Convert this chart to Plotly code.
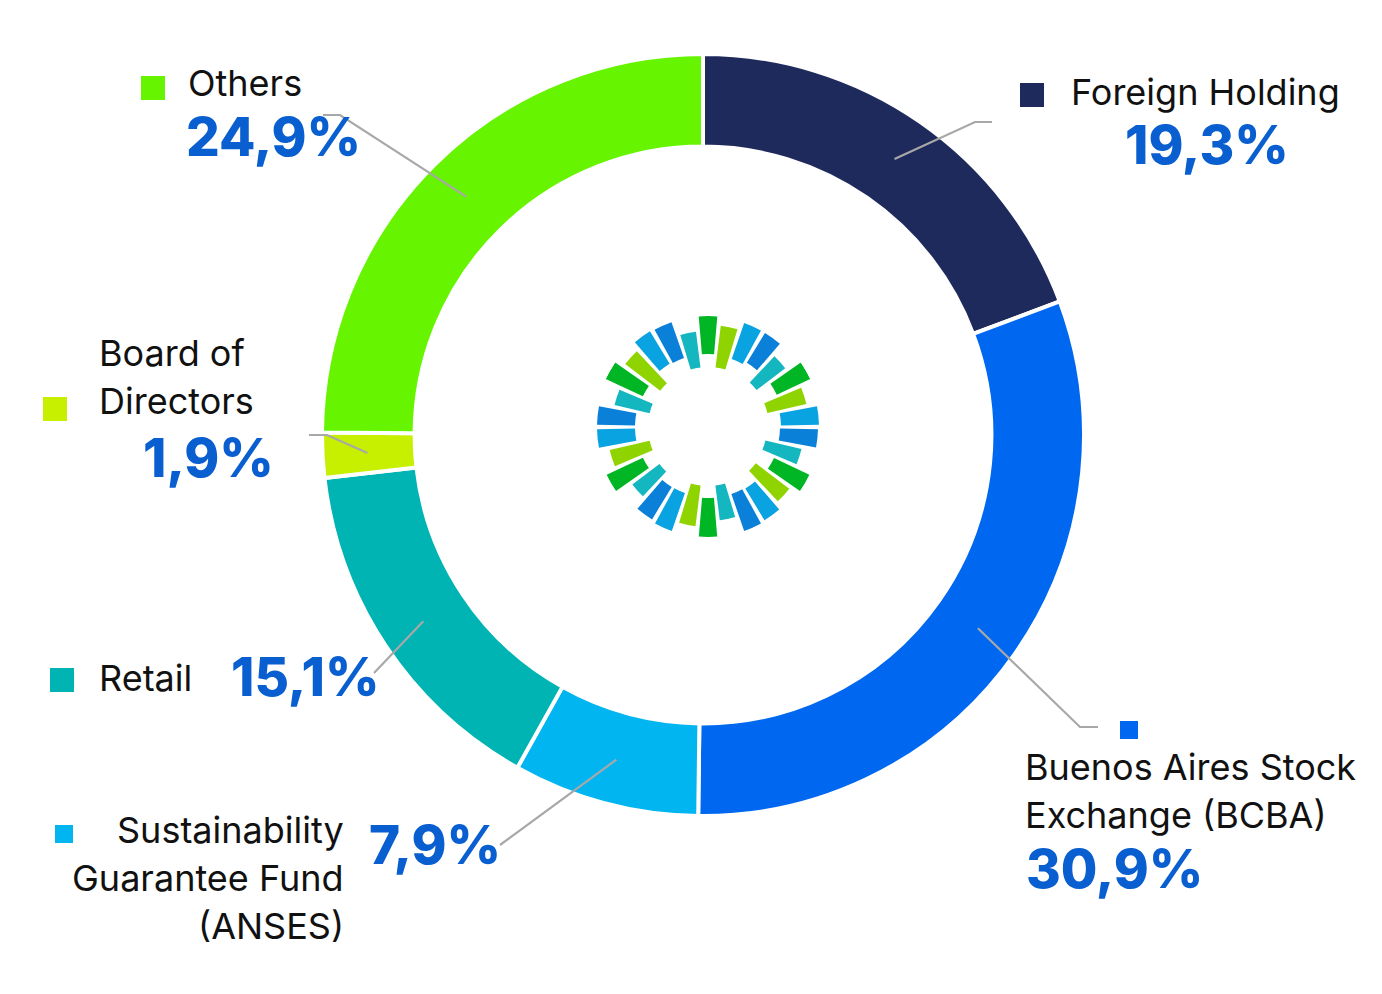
import math
import plotly.graph_objects as go

# ── Data ─────────────────────────────────────────────────────────────────────
GROUPS = [
    "Foreign Holding",
    "Buenos Aires Stock<br>Exchange (BCBA)",
    "Sustainability<br>Guarantee Fund<br>(ANSES)",
    "Retail",
    "Board of<br>Directors",
    "Others",
]
SHARES = [19.3, 30.9, 7.9, 15.1, 1.9, 24.9]
PCT_TEXT = ["19,3%", "30,9%", "7,9%", "15,1%", "1,9%", "24,9%"]
SLICE_COLORS = ["#1f2a5c", "#0068f0", "#00b5f0", "#00b4b4", "#c6f000", "#66f400"]

# centre emblem (decorative ring of bars), clockwise from 12 o'clock
EMBLEM_THETA = [0, 12, 24, 36, 48, 60, 72, 84, 96, 108, 120, 132, 144, 156, 168,
                180, 192, 204, 216, 228, 240, 252, 264, 276, 288, 300, 312, 324, 336, 348]
EMBLEM_INNER = [73, 60, 72, 75, 61, 76, 61, 73, 72, 59, 73, 60, 72, 71, 59,
                71, 59, 70, 70, 61, 72, 60, 73, 73, 60, 72, 60, 74, 73, 60]
EMBLEM_OUTER = [111, 102, 110, 110, 97, 113, 101, 111, 110, 96, 112, 102, 109, 110, 94,
                110, 100, 110, 108, 95, 112, 101, 111, 111, 96, 113, 104, 112, 111, 96]
EMBLEM_COLORS = ["#00b624", "#8fd400", "#0aa3e2", "#0a80d8", "#14b6c0"] * 6

# ── Layout config (screen pixels) ────────────────────────────────────────────
W, H = 1382, 994
OFF = 8                            # page body margin around the plot div
CX, CY, R = 703, 435, 381          # donut centre / outer radius
HOLE = 0.757
LEAD_R = 336                       # where leader lines start (mid ring)
PCT_BLUE = "#0a5fd0"
LINE_GREY = "#a8a8a8"
LINE_GAP = 48
SHIFT = {"left": -3, "right": 3, "center": 0}


def px(x):
    return (x - OFF) / W


def py(y):
    return 1 - (y - OFF) / H


# per slice: label (x, first-line y, anchor), pct (x, y, anchor), square (cx, cy, size), leader path
PLACE = [
    dict(lab=(1072, 92, "left"), pct=(1207, 145, "center"), sq=(1032, 95, 24), lead=[(975, 122), (992, 122)]),
    dict(lab=(1026, 767, "left"), pct=(1027, 869, "left"), sq=(1129, 730, 18), lead=[(1080, 727), (1098, 727)]),
    dict(lab=(343, 830, "right"), pct=(370, 845, "left"), sq=(64, 834, 18), lead=[(500, 845)]),
    dict(lab=(100, 678, "left"), pct=(232, 677, "left"), sq=(62, 680, 24), lead=[(374, 673)]),
    dict(lab=(100, 353, "left"), pct=(273, 458, "right"), sq=(55, 409, 24), lead=[(327, 435), (309, 435)]),
    dict(lab=(189, 83, "left"), pct=(187, 137, "left"), sq=(153, 88, 24), lead=[(340, 115), (323, 115)]),
]

fig = go.Figure()

# donut
fig.add_trace(go.Pie(
    labels=[g.replace("<br>", " ") for g in GROUPS],
    values=SHARES,
    marker=dict(colors=SLICE_COLORS, line=dict(color="white", width=4)),
    hole=HOLE,
    sort=False,
    direction="clockwise",
    rotation=0,
    textinfo="none",
    showlegend=False,
    domain=dict(x=[px(CX - R), px(CX + R)], y=[py(CY + R), py(CY - R)]),
))

# emblem
fig.add_trace(go.Barpolar(
    theta=EMBLEM_THETA,
    base=EMBLEM_INNER,
    r=[o - i for o, i in zip(EMBLEM_OUTER, EMBLEM_INNER)],
    width=9.6,
    marker=dict(color=EMBLEM_COLORS, line=dict(width=0)),
    showlegend=False,
    hoverinfo="skip",
))
EX, EY, ER = 708, 427, 113
fig.update_layout(polar=dict(
    domain=dict(x=[px(EX - ER), px(EX + ER)], y=[py(EY + ER), py(EY - ER)]),
    bgcolor="rgba(0,0,0,0)",
    radialaxis=dict(range=[0, ER], visible=False),
    angularaxis=dict(rotation=90, direction="clockwise", visible=False),
))

# helper axes spanning the whole figure in screen pixels
fig.update_xaxes(range=[OFF, OFF + W], visible=False, fixedrange=True)
fig.update_yaxes(range=[OFF + H, OFF], visible=False, fixedrange=True)

shapes, annots = [], []
cum = 0.0
for name, share, pct, col, pl in zip(GROUPS, SHARES, PCT_TEXT, SLICE_COLORS, PLACE):
    mid = math.radians((cum + share / 2) / 100 * 360)
    cum += share
    x0 = CX + LEAD_R * math.sin(mid)
    y0 = CY - LEAD_R * math.cos(mid)
    path = f"M {x0:.1f} {y0:.1f} " + " ".join(f"L {x} {y}" for x, y in pl["lead"])
    shapes.append(dict(type="path", path=path, xref="x", yref="y",
                       line=dict(color=LINE_GREY, width=2.2), layer="above"))
    sx, sy, s = pl["sq"]
    shapes.append(dict(type="rect", xref="x", yref="y", x0=sx - s / 2, x1=sx + s / 2,
                       y0=sy - s / 2, y1=sy + s / 2, fillcolor=col, line=dict(width=0)))
    lx, ly, la = pl["lab"]
    for k, line in enumerate(name.split("<br>")):
        annots.append(dict(x=lx, y=ly + k * LINE_GAP, xref="x", yref="y", text=line,
                           showarrow=False, xanchor=la, yanchor="middle", xshift=SHIFT[la],
                           font=dict(family="Inter", size=36, color="#111111")))
    tx, ty, ta = pl["pct"]
    annots.append(dict(x=tx, y=ty, xref="x", yref="y", text=pct, showarrow=False,
                       xanchor=ta, yanchor="middle", xshift=SHIFT[ta],
                       font=dict(family="Inter", size=53, color=PCT_BLUE, weight=800)))

fig.update_layout(
    width=W, height=H,
    margin=dict(l=0, r=0, t=0, b=0),
    paper_bgcolor="white", plot_bgcolor="white",
    shapes=shapes, annotations=annots,
    showlegend=False,
)

fig.write_html("out.html")
